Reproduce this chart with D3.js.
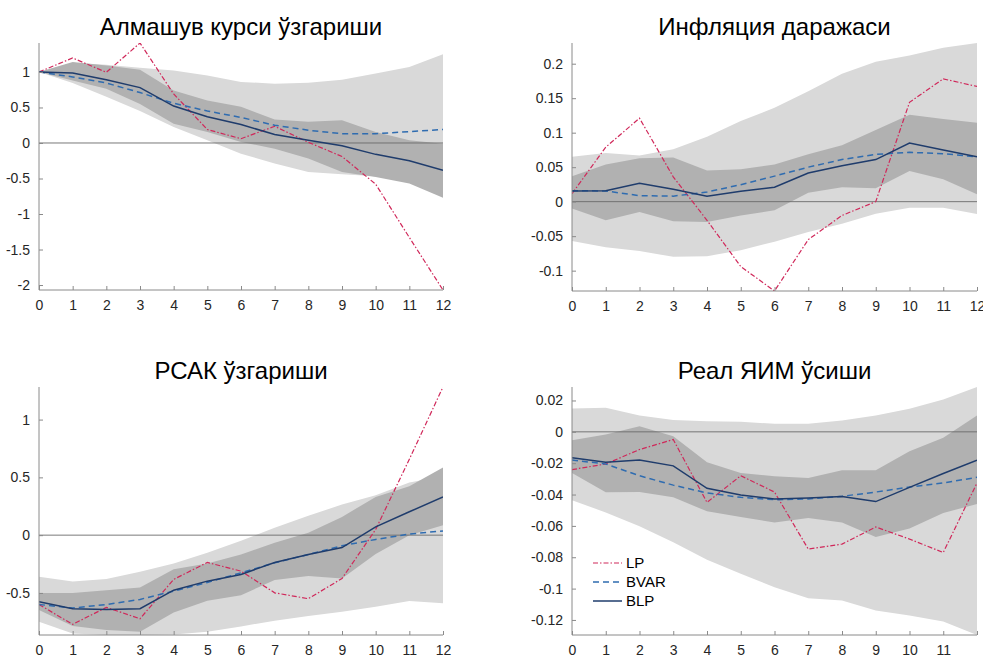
<!DOCTYPE html>
<html>
<head>
<meta charset="utf-8">
<script src="https://cdn.jsdelivr.net/npm/d3@7"></script>
<style>
  body { margin: 0; background: #fff; }
  text { font-family: "Liberation Sans", Arial, sans-serif; }
</style>
</head>
<body>
<svg width="983" height="655"></svg>
<script>
var horizons = [0,1,2,3,4,5,6,7,8,9,10,11,12]

// Алмашув курси ўзгариши
var lp1 = [1, 1.197, 0.995, 1.408, 0.69, 0.19, 0.06, 0.235, 0.01, -0.19, -0.58, -1.33, -2.07]
var bvar1 = [1, 0.93, 0.845, 0.71, 0.56, 0.45, 0.36, 0.25, 0.18, 0.13, 0.13, 0.16, 0.19]
var blp1 = [1, 0.986, 0.89, 0.78, 0.52, 0.37, 0.26, 0.12, 0.04, -0.04, -0.16, -0.25, -0.385]
var outerHi1 = [1, 1.13, 1.10, 1.06, 1.02, 0.95, 0.86, 0.835, 0.85, 0.89, 0.98, 1.07, 1.25]
var outerLo1 = [1, 0.845, 0.65, 0.45, 0.225, 0.04, -0.15, -0.29, -0.41, -0.44, -0.47, -0.52, -0.6]
var innerHi1 = [1, 1.14, 1.09, 1.03, 0.74, 0.6, 0.51, 0.33, 0.30, 0.32, 0.155, 0.04, -0.01]
var innerLo1 = [1, 0.88, 0.765, 0.55, 0.27, 0.155, 0.014, -0.08, -0.22, -0.41, -0.48, -0.57, -0.77]
var yTicks1 = [-2, -1.5, -1, -0.5, 0, 0.5, 1]

// Инфляция даражаси
var lp2 = [0.0116, 0.079, 0.121, 0.036, -0.027, -0.094, -0.1295, -0.055, -0.020, 0.0, 0.144, 0.178, 0.167]
var bvar2 = [0.016, 0.0155, 0.0087, 0.008, 0.014, 0.0246, 0.037, 0.050, 0.061, 0.0686, 0.0715, 0.0696, 0.065]
var blp2 = [0.0155, 0.016, 0.0266, 0.018, 0.008, 0.015, 0.021, 0.0415, 0.052, 0.061, 0.085, 0.075, 0.065]
var outerHi2 = [0.065, 0.0705, 0.067, 0.076, 0.094, 0.117, 0.136, 0.160, 0.1855, 0.203, 0.212, 0.223, 0.230]
var outerLo2 = [-0.057, -0.066, -0.0715, -0.080, -0.079, -0.0705, -0.058, -0.044, -0.032, -0.0174, -0.0087, -0.0087, -0.018]
var innerHi2 = [0.037, 0.054, 0.063, 0.064, 0.045, 0.047, 0.054, 0.0686, 0.0816, 0.104, 0.126, 0.120, 0.1145]
var innerLo2 = [-0.010, -0.027, -0.015, -0.0285, -0.0295, -0.020, -0.0126, 0.013, 0.0208, 0.0193, 0.0444, 0.0324, 0.0106]
var yTicks2 = [-0.1, -0.05, 0, 0.05, 0.1, 0.15, 0.2]

// РСАК ўзгариши
var lp3 = [-0.60, -0.772, -0.625, -0.723, -0.383, -0.236, -0.311, -0.499, -0.55, -0.375, 0.049, 0.657, 1.282]
var bvar3 = [-0.60, -0.631, -0.60, -0.556, -0.484, -0.409, -0.326, -0.239, -0.167, -0.092, -0.037, 0.009, 0.037]
var blp3 = [-0.576, -0.637, -0.643, -0.637, -0.476, -0.398, -0.34, -0.236, -0.167, -0.107, 0.072, 0.202, 0.331]
var outerHi3 = [-0.36, -0.40, -0.38, -0.317, -0.245, -0.153, -0.049, 0.063, 0.167, 0.265, 0.346, 0.455, 0.51]
var outerLo3 = [-0.75, -0.85, -0.864, -0.864, -0.86, -0.836, -0.79, -0.74, -0.70, -0.663, -0.62, -0.57, -0.59]
var innerHi3 = [-0.50, -0.50, -0.476, -0.452, -0.294, -0.245, -0.167, -0.066, 0.02, 0.158, 0.331, 0.424, 0.585]
var innerLo3 = [-0.648, -0.787, -0.82, -0.836, -0.669, -0.568, -0.519, -0.389, -0.354, -0.375, -0.164, 0.0, 0.086]
var yTicks3 = [-0.5, 0, 0.5, 1]

// Реал ЯИМ ўсиши
var lp4 = [-0.0241, -0.0205, -0.0113, -0.0049, -0.045, -0.028, -0.0384, -0.0748, -0.0716, -0.0607, -0.0684, -0.077, -0.0326]
var bvar4 = [-0.018, -0.0205, -0.028, -0.034, -0.039, -0.0418, -0.0433, -0.0428, -0.0411, -0.0384, -0.0352, -0.0326, -0.029]
var blp4 = [-0.0166, -0.0194, -0.0179, -0.0217, -0.036, -0.0403, -0.0428, -0.0422, -0.0413, -0.0445, -0.0354, -0.0266, -0.0181]
var outerHi4 = [0.0149, 0.0153, 0.0104, 0.0075, 0.0068, 0.0064, 0.0051, 0.0051, 0.0072, 0.0104, 0.0147, 0.0207, 0.0286]
var outerLo4 = [-0.0437, -0.0514, -0.0603, -0.0705, -0.0816, -0.0906, -0.0991, -0.1061, -0.1076, -0.114, -0.1172, -0.121, -0.1296]
var innerHi4 = [-0.0053, -0.0017, 0.0036, -0.0028, -0.0194, -0.0262, -0.0283, -0.0294, -0.0245, -0.0245, -0.0124, -0.0038, 0.0104]
var innerLo4 = [-0.0262, -0.0386, -0.0384, -0.0418, -0.0507, -0.0543, -0.0578, -0.055, -0.0578, -0.0671, -0.0616, -0.0518, -0.046]
var yTicks4 = [-0.12, -0.1, -0.08, -0.06, -0.04, -0.02, 0, 0.02]

var titles = ['Алмашув курси ўзгариши', 'Инфляция даражаси', 'РСАК ўзгариши', 'Реал ЯИМ ўсиши']
var legendNames = ['LP', 'BVAR', 'BLP']

var panels = [
  {title: titles[0], lp: lp1, bvar: bvar1, blp: blp1, oHi: outerHi1, oLo: outerLo1, iHi: innerHi1, iLo: innerLo1, ticks: yTicks1, x0: 39, x1: 443, top: 43, bot: 290, last: 12},
  {title: titles[1], lp: lp2, bvar: bvar2, blp: blp2, oHi: outerHi2, oLo: outerLo2, iHi: innerHi2, iLo: innerLo2, ticks: yTicks2, x0: 572, x1: 977, top: 43, bot: 291, last: 12},
  {title: titles[2], lp: lp3, bvar: bvar3, blp: blp3, oHi: outerHi3, oLo: outerLo3, iHi: innerHi3, iLo: innerLo3, ticks: yTicks3, x0: 39, x1: 443, top: 387, bot: 635, last: 12},
  {title: titles[3], lp: lp4, bvar: bvar4, blp: blp4, oHi: outerHi4, oLo: outerLo4, iHi: innerHi4, iLo: innerLo4, ticks: yTicks4, x0: 572, x1: 977, top: 387, bot: 635, last: 11}
]

var lightGray = '#d9d9d9'
var darkGray = '#b1b1b1'
var lpColor = '#d0285a'
var bvarColor = '#2f6cb0'
var blpColor = '#1f3c6c'

var svg = d3.select('svg')

panels.forEach(function(p, k){
  var all = [].concat(p.lp, p.bvar, p.blp, p.oHi, p.oLo, p.iHi, p.iLo)
  var x = d3.scaleLinear().domain([0, 12]).range([p.x0, p.x1])
  var y = d3.scaleLinear().domain([d3.min(all), d3.max(all)]).range([p.bot, p.top])

  var g = svg.append('g')

  g.append('clipPath').attr('id', 'clip' + k)
    .append('rect')
    .attr('x', p.x0).attr('y', p.top)
    .attr('width', p.x1 - p.x0).attr('height', p.bot - p.top)

  var plot = g.append('g').attr('clip-path', 'url(#clip' + k + ')')

  var band = function(lo, hi){
    return d3.area()
      .x(function(d){ return x(d) })
      .y0(function(d, i){ return y(lo[i]) })
      .y1(function(d, i){ return y(hi[i]) })(horizons)
  }

  plot.append('path').attr('d', band(p.oLo, p.oHi)).style('fill', lightGray)
  plot.append('path').attr('d', band(p.iLo, p.iHi)).style('fill', darkGray)

  plot.append('line')
    .attr('x1', p.x0).attr('x2', p.x1)
    .attr('y1', y(0)).attr('y2', y(0))
    .style('stroke', '#6a6a6a').style('stroke-width', 0.9)

  var line = function(vals){
    return d3.line()
      .x(function(d){ return x(d) })
      .y(function(d, i){ return y(vals[i]) })(horizons)
  }

  plot.append('path').attr('d', line(p.lp))
    .style('fill', 'none').style('stroke', lpColor).style('stroke-width', 1.2)
    .style('stroke-dasharray', '5,2,1.5,2')
  plot.append('path').attr('d', line(p.bvar))
    .style('fill', 'none').style('stroke', bvarColor).style('stroke-width', 1.5)
    .style('stroke-dasharray', '6,4')
  plot.append('path').attr('d', line(p.blp))
    .style('fill', 'none').style('stroke', blpColor).style('stroke-width', 1.5)

  // axes, MATLAB style: ticks pointing in
  var xAxis = d3.axisBottom(x)
    .tickValues(horizons)
    .tickSize(-4)
    .tickPadding(10)
    .tickFormat(function(d){ return d <= p.last ? String(d) : '' })
  var gx = g.append('g').attr('transform', 'translate(0,' + p.bot + ')').call(xAxis)

  var yAxis = d3.axisLeft(y)
    .tickValues(p.ticks)
    .tickSize(-4)
    .tickPadding(9)
    .tickFormat(function(d){ return String(d) })
  var gy = g.append('g').attr('transform', 'translate(' + p.x0 + ',0)').call(yAxis)

  ;[gx, gy].forEach(function(a){
    a.select('.domain').style('stroke', '#8a8a8a')
    a.selectAll('.tick line').style('stroke', '#8a8a8a')
    a.selectAll('.tick text').style('font-size', '14px').style('fill', '#262626')
      .style('font-family', '"Liberation Sans", Arial, sans-serif')
  })
  gx.select('.domain').attr('d', 'M' + p.x0 + ',0H' + p.x1)
  gy.select('.domain').attr('d', 'M0,' + p.bot + 'V' + p.top)

  g.append('text')
    .attr('x', (p.x0 + p.x1) / 2)
    .attr('y', p.top - 8)
    .attr('text-anchor', 'middle')
    .style('font-size', '24px')
    .style('fill', '#000')
    .text(p.title)

  if (k === 3) {
    var styles = [
      {c: lpColor, w: 1.2, dash: '5,2,1.5,2'},
      {c: bvarColor, w: 1.5, dash: '6,4'},
      {c: blpColor, w: 1.5, dash: null}
    ]
    var leg = g.append('g')
    legendNames.forEach(function(name, j){
      var yy = 563 + j * 19
      leg.append('line')
        .attr('x1', 593).attr('x2', 622).attr('y1', yy).attr('y2', yy)
        .style('stroke', styles[j].c).style('stroke-width', styles[j].w)
        .style('stroke-dasharray', styles[j].dash)
      leg.append('text')
        .attr('x', 626).attr('y', yy + 5)
        .style('font-size', '15px').style('fill', '#000')
        .text(name)
    })
  }
})
</script>
</body>
</html>
